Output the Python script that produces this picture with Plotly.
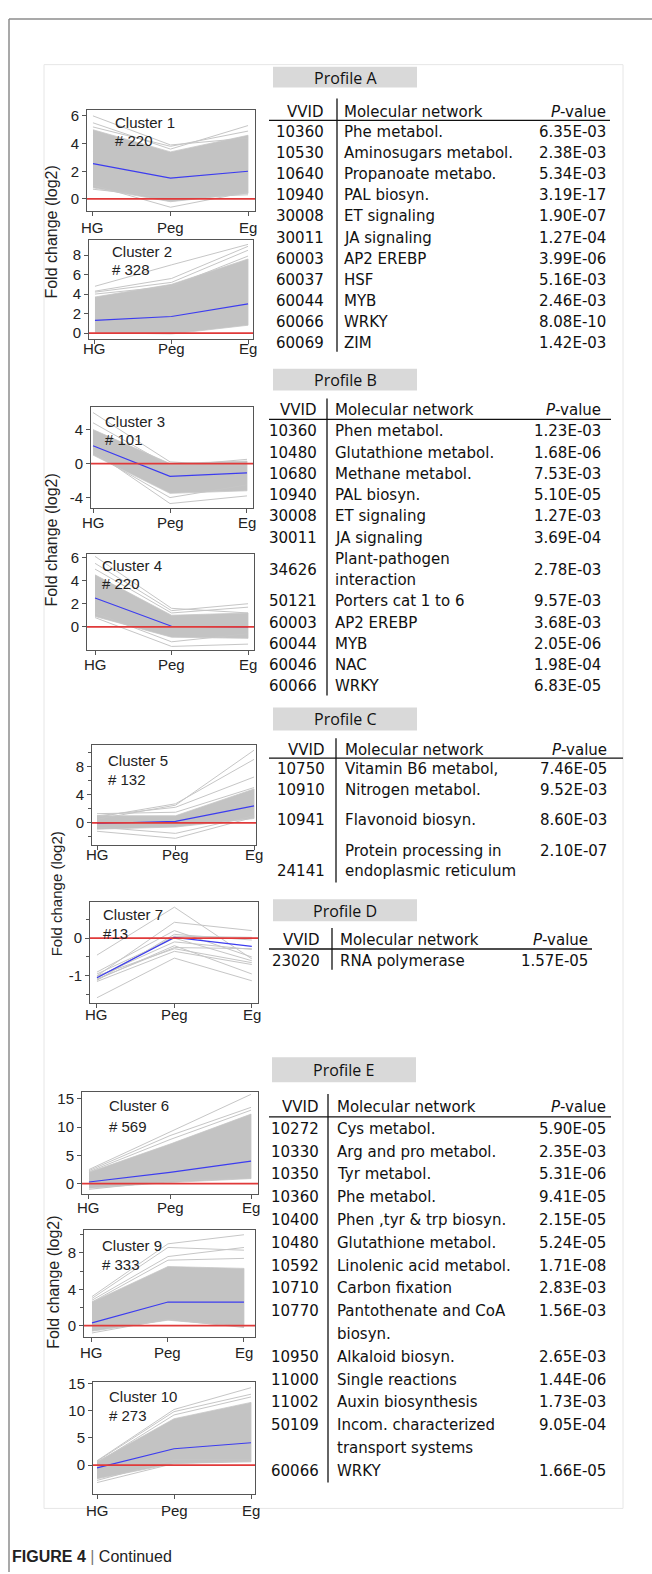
import plotly.graph_objects as go

W, H = 652, 1574


def PX(x):
    return x / W


def PY(y):
    return 1 - y / H


STAGES = ["HG", "Peg", "Eg"]

# ---------------- cluster data: log2 fold change at HG, Peg, Eg ----------------
c1_mean = [2.55, 1.50, 2.00]
c1_hi = [5.0, 3.4, 4.6]
c1_lo = [0.8, -0.2, 0.4]
c1_lines = [[6.0, 3.9, 4.4], [5.5, 3.6, 5.3], [5.2, 3.8, 4.9], [1.0, -0.6, 0.5], [0.7, 0.1, 0.3]]

c2_mean = [1.30, 1.70, 3.00]
c2_hi = [3.7, 5.0, 7.6]
c2_lo = [0.05, -0.1, 0.8]
c2_lines = [[4.8, 7.0, 9.1], [4.3, 5.6, 8.9], [4.2, 5.2, 8.5], [4.0, 4.8, 7.9]]

c3_mean = [2.10, -1.50, -1.10]
c3_hi = [4.0, 0.0, 0.3]
c3_lo = [1.0, -3.5, -3.2]
c3_lines = [[6.0, 0.2, -0.3], [4.8, -0.3, 0.5], [1.5, -4.7, -3.8], [1.2, -4.0, -2.5]]

c4_mean = [2.50, 0.05, 0.00]
c4_hi = [4.5, 1.0, 1.2]
c4_lo = [0.9, -0.9, -1.0]
c4_lines = [[6.1, 1.6, 1.2], [5.5, 1.4, 2.0], [5.0, 1.2, 1.7], [0.8, -1.7, -1.5], [1.2, -1.3, -0.6]]

c5_mean = [-0.10, 0.20, 2.40]
c5_hi = [1.0, 1.0, 4.8]
c5_lo = [-0.9, -0.6, 0.6]
c5_lines = [[0.5, 2.5, 10.3], [0.8, 2.7, 9.0], [1.0, 2.2, 6.5], [1.3, 1.5, 5.0],
            [-1.2, -2.2, 0.8], [-0.6, -1.5, 1.0]]

c7_mean = [-1.05, 0.02, -0.22]
c7_hi = None
c7_lo = None
c7_lines = [[-1.58, -0.53, -1.13], [-0.45, 0.82, -0.55], [-1.00, 0.42, 0.20], [-1.05, 0.05, 0.02],
            [-1.10, -0.20, -0.95], [-1.00, -0.28, -0.65], [-1.08, -0.25, -0.28], [-0.95, 0.00, -0.60],
            [-1.12, 0.10, -0.05], [-1.02, -0.10, -0.30], [-0.90, 0.20, -0.50], [-1.15, -0.35, -0.70]]

c6_mean = [0.30, 2.00, 4.00]
c6_hi = [2.0, 7.0, 12.3]
c6_lo = [-0.8, 0.2, 0.9]
c6_lines = [[2.5, 9.2, 15.8], [2.3, 8.5, 13.5], [2.1, 7.8, 13.0], [-1.0, 0.5, 1.0]]

c9_mean = [0.30, 2.60, 2.60]
c9_hi = [2.6, 6.5, 6.3]
c9_lo = [-0.6, 0.6, -0.1]
c9_lines = [[3.2, 9.0, 10.0], [3.0, 8.6, 8.3], [2.8, 7.6, 8.6], [2.6, 7.2, 7.4], [-0.8, 0.7, -0.2]]

c10_mean = [-0.50, 3.00, 4.10]
c10_hi = [0.6, 8.5, 11.5]
c10_lo = [-2.5, 0.3, 0.6]
c10_lines = [[0.8, 10.2, 14.2], [0.7, 9.8, 13.0], [0.4, 9.2, 12.5], [-3.2, 0.3, 0.8], [-2.8, 1.0, 1.0]]

cluster_names = ["Cluster 1", "Cluster 2", "Cluster 3", "Cluster 4", "Cluster 5",
                 "Cluster 7", "Cluster 6", "Cluster 9", "Cluster 10"]
cluster_counts = ["# 220", "# 328", "# 101", "# 220", "# 132", "#13", "# 569", "# 333", "# 273"]

# ---------------- table data ----------------
tA_vvid = ["10360", "10530", "10640", "10940", "30008", "30011", "60003", "60037", "60044", "60066", "60069"]
tA_net = ["Phe metabol.", "Aminosugars metabol.", "Propanoate metabo.", "PAL biosyn.", "ET signaling",
          "JA signaling", "AP2 EREBP", "HSF", "MYB", "WRKY", "ZIM"]
tA_p = ["6.35E-03", "2.38E-03", "5.34E-03", "3.19E-17", "1.90E-07", "1.27E-04", "3.99E-06",
        "5.16E-03", "2.46E-03", "8.08E-10", "1.42E-03"]

tB_vvid = ["10360", "10480", "10680", "10940", "30008", "30011", "34626", "50121", "60003", "60044",
           "60046", "60066"]
tB_net = ["Phen metabol.", "Glutathione metabol.", "Methane metabol.", "PAL biosyn.", "ET signaling",
          "JA signaling", "Plant-pathogen\ninteraction", "Porters cat 1 to 6", "AP2 EREBP", "MYB",
          "NAC", "WRKY"]
tB_p = ["1.23E-03", "1.68E-06", "7.53E-03", "5.10E-05", "1.27E-03", "3.69E-04", "2.78E-03",
        "9.57E-03", "3.68E-03", "2.05E-06", "1.98E-04", "6.83E-05"]

tC_vvid = ["10750", "10910", "10941", "24141"]
tC_net = ["Vitamin B6 metabol,", "Nitrogen metabol.", "Flavonoid biosyn.",
          "Protein processing in\nendoplasmic reticulum"]
tC_p = ["7.46E-05", "9.52E-03", "8.60E-03", "2.10E-07"]

tD_vvid = ["23020"]
tD_net = ["RNA polymerase"]
tD_p = ["1.57E-05"]

tE_vvid = ["10272", "10330", "10350", "10360", "10400", "10480", "10592", "10710", "10770", "10950",
           "11000", "11002", "50109", "60066"]
tE_net = ["Cys metabol.", "Arg and pro metabol.", "Tyr metabol.", "Phe metabol.",
          "Phen ,tyr & trp biosyn.", "Glutathione metabol.", "Linolenic acid metabol.",
          "Carbon fixation", "Pantothenate and CoA\nbiosyn.", "Alkaloid biosyn.", "Single reactions",
          "Auxin biosynthesis", "Incom. characterized\ntransport systems", "WRKY"]
tE_p = ["5.90E-05", "2.35E-03", "5.31E-06", "9.41E-05", "2.15E-05", "5.24E-05", "1.71E-08",
        "2.83E-03", "1.56E-03", "2.65E-03", "1.44E-06", "1.73E-03", "9.05E-04", "1.66E-05"]

profile_titles = ["Profile A", "Profile B", "Profile C", "Profile D", "Profile E"]
header_cols = ["VVID", "Molecular network", "<i>P</i>-value"]
y_title = "Fold change (log2)"
caption_bold = "FIGURE 4"
caption_rest = "Continued"

# ---------------- layout of panels (pixel boxes) ----------------
CLUSTERS = [
    (c1_mean, c1_hi, c1_lo, c1_lines),
    (c2_mean, c2_hi, c2_lo, c2_lines),
    (c3_mean, c3_hi, c3_lo, c3_lines),
    (c4_mean, c4_hi, c4_lo, c4_lines),
    (c5_mean, c5_hi, c5_lo, c5_lines),
    (c7_mean, c7_hi, c7_lo, c7_lines),
    (c6_mean, c6_hi, c6_lo, c6_lines),
    (c9_mean, c9_hi, c9_lo, c9_lines),
    (c10_mean, c10_hi, c10_lo, c10_lines),
]
PANEL_LAYOUT = [
    dict(box=(87, 103, 255, 204), yr=(-0.85, 6.4), xr=(-0.077, 2.09), yt=[0, 2, 4, 6], minor=None, lab=(113, 115, 133), xl=221),
    dict(box=(89, 233, 253, 333), yr=(-0.6, 9.6), xr=(-0.078, 2.065), yt=[0, 2, 4, 6, 8], minor=None, lab=(110, 245, 263), xl=343),
    dict(box=(91, 402, 253, 503), yr=(-5.2, 6.6), xr=(-0.026, 2.078), yt=[-4, 0, 4], minor=None, lab=(103, 416, 434), xl=518),
    dict(box=(87, 549, 254, 646), yr=(-2.0, 6.35), xr=(-0.105, 2.078), yt=[0, 2, 4, 6], minor=None, lab=(100, 561, 579), xl=661),
    dict(box=(92, 742, 256, 842), yr=(-3.1, 11.0), xr=(-0.064, 2.025), yt=[0, 4, 8], minor=2, lab=(106, 757, 776), xl=852),
    dict(box=(90, 900, 258, 1001), yr=(-1.71, 0.95), xr=(-0.09, 2.08), yt=[-1, 0], minor=0.5, lab=(101, 912, 931), xl=1013),
    dict(box=(82, 1091, 258, 1194), yr=(-1.9, 16.2), xr=(-0.086, 2.086), yt=[0, 5, 10, 15], minor=None, lab=(107, 1105, 1126), xl=1207),
    dict(box=(84, 1230, 255, 1338), yr=(-1.3, 10.5), xr=(-0.105, 2.145), yt=[0, 4, 8], minor=2, lab=(100, 1245, 1265), xl=1353),
    dict(box=(93, 1383, 255, 1495), yr=(-5.2, 15.2), xr=(-0.052, 2.052), yt=[0, 5, 10, 15], minor=None, lab=(107, 1397, 1417), xl=1512),
]

PLOT_FONT = "Liberation Sans, Arial, sans-serif"
TABLE_FONT = "DejaVu Sans, sans-serif"
HEAD_FONT = "Open Sans, Lato, sans-serif"

BAND = "#c3c3c3"
GRAYLINE = "#c6c6c6"
BLUE = "#3c3cf0"
RED = "#e03a3a"
AXIS = "#555555"

fig = go.Figure()
layout = dict(width=W, height=H, margin=dict(l=0, r=0, t=0, b=0), paper_bgcolor="white",
              plot_bgcolor="white", showlegend=False, autosize=False)
shapes = []
annots = []

xs = [0, 1, 2]
for i, ((mean, hi, lo, lines), pl) in enumerate(zip(CLUSTERS, PANEL_LAYOUT), start=1):
    xa = "x" if i == 1 else f"x{i}"
    ya = "y" if i == 1 else f"y{i}"
    l, t, r, b = pl["box"]
    if hi is not None:
        fig.add_trace(go.Scatter(x=xs + xs[::-1], y=hi + lo[::-1], fill="toself", fillcolor=BAND,
                                 mode="lines", line=dict(width=0.8, color=GRAYLINE), hoverinfo="skip",
                                 xaxis=xa, yaxis=ya))
    for ln in lines:
        fig.add_trace(go.Scatter(x=xs, y=ln, mode="lines", line=dict(width=1, color=GRAYLINE),
                                 hoverinfo="skip", xaxis=xa, yaxis=ya))
    fig.add_trace(go.Scatter(x=xs, y=mean, mode="lines", line=dict(width=1.2, color=BLUE),
                             xaxis=xa, yaxis=ya))
    shapes.append(dict(type="line", xref=f"{xa} domain", yref=ya, x0=0, x1=1, y0=0, y1=0,
                       line=dict(color=RED, width=1.8), layer="above"))
    xkey = "xaxis" if i == 1 else f"xaxis{i}"
    ykey = "yaxis" if i == 1 else f"yaxis{i}"
    layout[xkey] = dict(domain=[PX(l), PX(r)], range=list(pl["xr"]), anchor=ya, tickmode="array",
                        tickvals=xs, ticktext=STAGES, ticks="outside", ticklen=4, tickcolor=AXIS,
                        showline=True, mirror=True, linecolor=AXIS, linewidth=1, showgrid=False,
                        zeroline=False, showticklabels=False, fixedrange=True)
    yax = dict(domain=[PY(b), PY(t)], range=list(pl["yr"]), anchor=xa, tickmode="array",
               tickvals=pl["yt"], ticktext=[str(v) for v in pl["yt"]], ticks="outside", ticklen=4,
               tickcolor=AXIS, showline=True,
               mirror=True, linecolor=AXIS, linewidth=1, showgrid=False, zeroline=False,
               tickfont=dict(family=PLOT_FONT, size=15, color="#222"), fixedrange=True)
    if pl["minor"]:
        yax["minor"] = dict(ticks="outside", ticklen=3, dtick=pl["minor"], tickcolor=AXIS, showgrid=False)
    layout[ykey] = yax
    # stage labels under each panel
    for xv, st in zip(xs, STAGES):
        annots.append(dict(x=xv, y=PY(pl["xl"]), xref=xa, yref="paper", text=st, showarrow=False,
                           xanchor="center", yanchor="middle",
                           font=dict(family=PLOT_FONT, size=15, color="#222")))
    lx, ly1, ly2 = pl["lab"]
    annots.append(dict(x=PX(lx), y=PY(ly1), xref="paper", yref="paper", text=cluster_names[i - 1],
                       showarrow=False, xanchor="left", yanchor="middle",
                       font=dict(family=PLOT_FONT, size=15, color="#222")))
    annots.append(dict(x=PX(lx), y=PY(ly2), xref="paper", yref="paper", text=cluster_counts[i - 1],
                       showarrow=False, xanchor="left", yanchor="middle",
                       font=dict(family=PLOT_FONT, size=15, color="#222")))

# y-axis titles
for (x, y, s) in [(52, 226, 16), (52, 536, 16), (56, 892, 15), (54, 1282, 16)]:
    annots.append(dict(x=PX(x), y=PY(y), xref="paper", yref="paper", text=y_title, textangle=-90,
                       showarrow=False, xanchor="center", yanchor="middle",
                       font=dict(family=PLOT_FONT, size=s, color="#222")))


# ---------------- tables ----------------
def rows_layout(net, y0, pitch, mode):
    net_ys, vv_ys, p_ys = [], [], []
    y = y0
    for n in net:
        parts = n.split("\n")
        ys = [y + k * pitch for k in range(len(parts))]
        net_ys.append(ys)
        c = sum(ys) / len(ys) if mode == "center" else ys[0]
        vv_ys.append(c)
        p_ys.append(c)
        y += pitch * len(parts)
    return net_ys, vv_ys, p_ys


def txt(x, y, s, anchor, family=TABLE_FONT, size=15):
    annots.append(dict(x=PX(x), y=PY(y), xref="paper", yref="paper", text=s, showarrow=False,
                       xanchor=anchor, yanchor="middle", font=dict(family=family, size=size, color="#111")))


def line(x0, y0, x1, y1, color="#111", width=1.3):
    shapes.append(dict(type="line", xref="paper", yref="paper", x0=PX(x0), y0=PY(y0), x1=PX(x1), y1=PY(y1),
                       line=dict(color=color, width=width)))


def draw_table(title, box, head_y, ul, vline, cols, vvid, net, pv, lay):
    bx0, by0, bx1, by1 = box
    shapes.append(dict(type="rect", xref="paper", yref="paper", x0=PX(bx0), x1=PX(bx1), y0=PY(by1), y1=PY(by0),
                       fillcolor="#d9d9d9", line=dict(width=0), layer="below"))
    txt((bx0 + bx1) / 2, (by0 + by1) / 2 + 0.5, title, "center", family=HEAD_FONT, size=16)
    xv, xn, xp = cols
    txt(xv, head_y, header_cols[0], "right")
    txt(xn, head_y, header_cols[1], "left")
    txt(xp, head_y, header_cols[2], "right")
    line(ul[1], ul[0], ul[2], ul[0])
    line(vline[0], vline[1], vline[0], vline[2])
    net_ys, vv_ys, p_ys = lay
    for k in range(len(vvid)):
        txt(xv, vv_ys[k], vvid[k], "right")
        txt(xp, p_ys[k], pv[k], "right")
        for part, yy in zip(net[k].split("\n"), net_ys[k]):
            txt(xn, yy, part, "left")


draw_table(profile_titles[0], (273, 59, 417, 80), 105, (113, 269, 610), (337, 91, 346),
           (326, 342, 608), tA_vvid, tA_net, tA_p, rows_layout(tA_net, 125, 21.2, "center"))
draw_table(profile_titles[1], (273, 363, 417, 385), 405, (414, 269, 611), (327, 393, 692),
           (319, 333, 603), tB_vvid, tB_net, tB_p, rows_layout(tB_net, 426, 21.4, "center"))
draw_table(profile_titles[2], (273, 704, 417, 727), 747, (755, 269, 623), (336, 735, 880),
           (327, 343, 609), tC_vvid, tC_net, tC_p,
           ([[766], [787], [817], [848, 869]], [766, 787, 817, 869], [766, 787, 817, 848]))
draw_table(profile_titles[3], (273, 897, 417, 919), 938, (947, 269, 592), (332, 926, 968),
           (322, 338, 590), tD_vvid, tD_net, tD_p, ([[959]], [959], [959]))
draw_table(profile_titles[4], (272, 1056, 416, 1081), 1106, (1116, 269, 611), (328, 1093, 1484),
           (321, 335, 608), tE_vvid, tE_net, tE_p, rows_layout(tE_net, 1128, 22.95, "top"))

# ---------------- page frame and caption ----------------
line(9, 11, 652, 11, color="#8c8c8c", width=1.5)
line(9, 11, 9, 1574, color="#8c8c8c", width=1.5)
shapes.append(dict(type="rect", xref="paper", yref="paper", x0=PX(44), x1=PX(623), y0=PY(1510), y1=PY(57),
                   line=dict(color="#e6e6e6", width=1), layer="below"))
annots.append(dict(x=PX(10), y=PY(1558), xref="paper", yref="paper",
                   text=f"<b>{caption_bold}</b> <span style='color:#777'>|</span> {caption_rest}",
                   showarrow=False, xanchor="left", yanchor="middle",
                   font=dict(family="Liberation Sans Narrow, Liberation Sans, Arial", size=16, color="#222")))

layout["shapes"] = shapes
layout["annotations"] = annots
fig.update_layout(**layout)
fig.write_html("out.html", config={"responsive": False, "displayModeBar": False},
               post_script="document.body.style.margin='0';document.body.style.padding='0';"
                           "document.documentElement.style.margin='0';")
